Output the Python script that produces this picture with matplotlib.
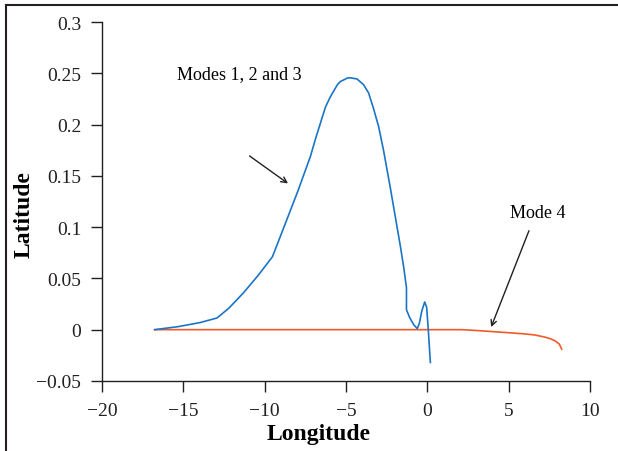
import numpy as np
import matplotlib
matplotlib.use("Agg")
import matplotlib.pyplot as plt
from matplotlib.lines import Line2D

# Modes 1, 2 and 3 (blue)
lon_123 = [-16.76, -15.3, -13.95, -12.93, -12.2, -11.3, -10.4, -9.53, -9.16, -7.99,
           -7.19, -6.9, -6.27, -5.97, -5.53, -5.35, -4.9, -4.73, -4.33, -3.93,
           -3.62, -3.32, -3.0, -2.70, -2.3, -1.66, -1.45, -1.29, -1.29, -1.1,
           -0.85, -0.63, -0.5, -0.35, -0.17, -0.05, 0.05, 0.18]
lat_123 = [0.0, 0.003, 0.007, 0.0114, 0.021, 0.036, 0.053, 0.071, 0.086, 0.134,
           0.169, 0.185, 0.217, 0.227, 0.239, 0.242, 0.2455, 0.2456, 0.2445, 0.239,
           0.231, 0.216, 0.198, 0.175, 0.14, 0.081, 0.06, 0.041, 0.0195, 0.012,
           0.005, 0.001, 0.006, 0.018, 0.027, 0.022, 0.0, -0.032]

# Mode 4 (orange)
lon_4 = [-16.76, 2.1, 3.0, 3.84, 5.0, 5.9, 6.6, 7.15, 7.55, 7.85, 8.1, 8.25]
lat_4 = [0.0, 0.0, -0.0008, -0.0017, -0.003, -0.004, -0.0052, -0.007, -0.0088,
         -0.011, -0.014, -0.019]

xticks = [-20, -15, -10, -5, 0, 5, 10]
yticks = [-0.05, 0, 0.05, 0.1, 0.15, 0.2, 0.25, 0.3]
yticklabels = ["\u22120.05", "0", "0.05", "0.1", "0.15", "0.2", "0.25", "0.3"]
xticklabels = ["\u221220", "\u221215", "\u221210", "\u22125", "0", "5", "10"]

plt.rcParams['font.family'] = ['Liberation Serif', 'DejaVu Serif']

fig = plt.figure(figsize=(6.18, 4.52), dpi=100)
ax = fig.add_axes([0.165, 0.155, 0.79, 0.794])

ax.plot(lon_4, lat_4, color="#f05a28", lw=1.2)
ax.plot(lon_123, lat_123, color="#1b75c6", lw=1.2)

ax.set_xlim(-20, 10)
ax.set_ylim(-0.05, 0.3)
ax.set_xticks(xticks)
ax.set_xticklabels(xticklabels)
ax.set_yticks(yticks)
ax.set_yticklabels(yticklabels)
ax.tick_params(direction="out", length=8, width=1, labelsize=14, colors="#231f20")
ax.tick_params(axis="x", pad=7)
ax.tick_params(axis="y", pad=7)

for s in ["top", "right"]:
    ax.spines[s].set_visible(False)
for s in ["left", "bottom"]:
    ax.spines[s].set_linewidth(1)
    ax.spines[s].set_color("#231f20")

ax.set_xlabel("Longitude", fontsize=17, fontweight="bold")
ax.set_ylabel("Latitude", fontsize=17, fontweight="bold")
ax.xaxis.set_label_coords(0.443, -0.117)
ax.yaxis.set_label_coords(-0.137, 0.465)

ax.text(-15.4, 0.25, "Modes 1, 2 and 3", fontsize=13, va="center", ha="left")
ax.annotate("", xy=(-8.43, 0.141), xytext=(-11.07, 0.171),
            arrowprops=dict(arrowstyle="->", color="#231f20", lw=1))
ax.text(6.8, 0.114, "Mode 4", fontsize=13, va="center", ha="center")
ax.annotate("", xy=(3.85, 0.0), xytext=(6.3, 0.099),
            arrowprops=dict(arrowstyle="->", color="#231f20", lw=1))

# frame lines at left and top of the figure
fig.add_artist(Line2D([6 / 618, 6 / 618], [0, 1 - 6 / 452], transform=fig.transFigure,
                      color="#231f20", lw=1.5))
fig.add_artist(Line2D([6 / 618, 1], [1 - 6 / 452, 1 - 6 / 452], transform=fig.transFigure,
                      color="#231f20", lw=1.5))

fig.savefig("out.png", dpi=100)
